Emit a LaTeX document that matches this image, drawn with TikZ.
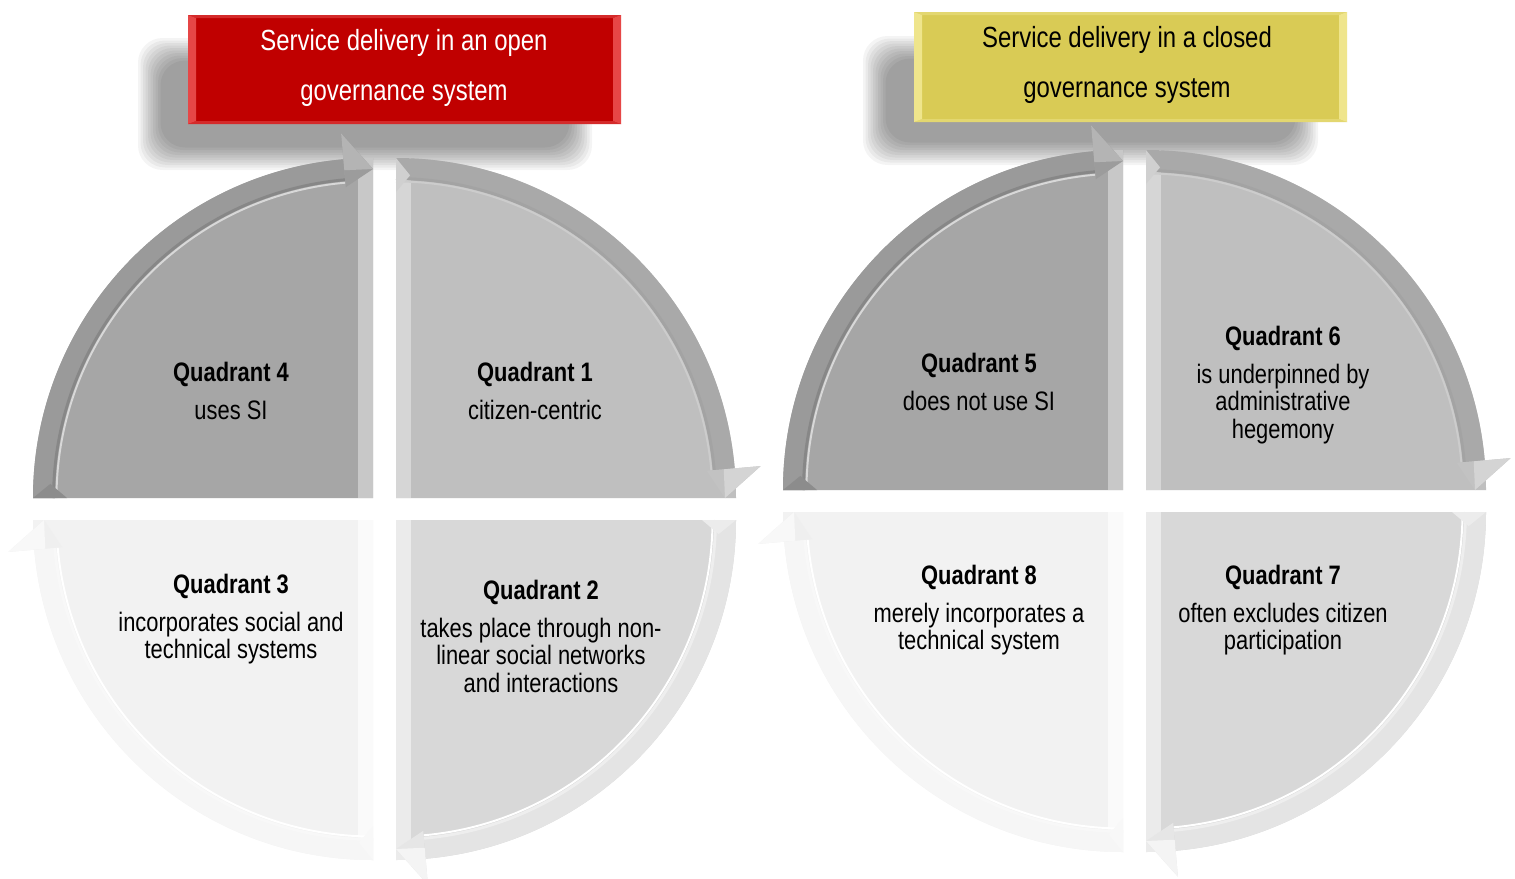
\documentclass[tikz,border=0pt]{standalone}
\usepackage{fontspec}
\setmainfont{Liberation Sans}[FakeStretch=0.82]

% tones of the four quadrant kinds
\definecolor{AFace}{HTML}{A6A6A6}\definecolor{AStrip}{HTML}{C8C8C8}\definecolor{ABand}{HTML}{9A9A9A}
\definecolor{AEdge}{HTML}{878787}\definecolor{AGlint}{HTML}{D8D8D8}\definecolor{AHead}{HTML}{9C9C9C}\definecolor{AHeadLit}{HTML}{B4B4B4}
\definecolor{AMiter}{HTML}{8C8C8C}
\definecolor{BFace}{HTML}{BFBFBF}\definecolor{BStrip}{HTML}{D6D6D6}\definecolor{BBand}{HTML}{A9A9A9}
\definecolor{BEdge}{HTML}{A3A3A3}\definecolor{BGlint}{HTML}{CCCCCC}\definecolor{BHead}{HTML}{C2C2C2}\definecolor{BHeadLit}{HTML}{D4D4D4}
\definecolor{BMiter}{HTML}{D0D0D0}
\definecolor{CFace}{HTML}{D8D8D8}\definecolor{CStrip}{HTML}{EBEBEB}\definecolor{CBand}{HTML}{E4E4E4}
\definecolor{CEdge}{HTML}{EEEEEE}\definecolor{CGlint}{HTML}{FFFFFF}\definecolor{CHead}{HTML}{E6E6E6}\definecolor{CHeadLit}{HTML}{F4F4F4}
\definecolor{CMiter}{HTML}{ECECEC}
\definecolor{DFace}{HTML}{F2F2F2}\definecolor{DStrip}{HTML}{FAFAFA}\definecolor{DBand}{HTML}{F6F6F6}
\definecolor{DEdge}{HTML}{F8F8F8}\definecolor{DGlint}{HTML}{FFFFFF}\definecolor{DHead}{HTML}{EFEFEF}\definecolor{DHeadLit}{HTML}{F8F8F8}
\definecolor{DMiter}{HTML}{F8F8F8}
% header colours
\definecolor{OpenFace}{HTML}{C00000}\definecolor{OpenSide}{HTML}{E64646}\definecolor{OpenTop}{HTML}{D42A2A}
\definecolor{ClosedFace}{HTML}{D9CB55}\definecolor{ClosedSide}{HTML}{EFE58C}\definecolor{ClosedTop}{HTML}{E3D770}

\def\Rout{340}
\def\Rin{318}
\def\Rmid{329}

% one quarter of a cycle: face, edge strip, curved band and its arrow head
% #1,#2 inner corner; #3 start angle; #4,#5 direction of the straight edge strip; #6 tone
\newcommand{\cyclequad}[6]{%
  \begin{scope}[shift={(#1,#2)}]
    \fill[#6Face] (0,0) -- (#3:\Rout) arc[start angle=#3, end angle={#3+90}, radius=\Rout] -- cycle;
    \fill[#6Strip] (0,0) rectangle ({#4*15},{#5*\Rout});
    \fill[#6Band] (#3:\Rout) arc[start angle=#3, end angle={#3+85}, radius=\Rout]
      -- ({#3+85}:\Rin) arc[start angle={#3+85}, end angle=#3, radius=\Rin] -- cycle;
    \draw[#6Edge, line width=1.6pt] ({#3}:{\Rin+1.5}) arc[start angle=#3, end angle={#3+85}, radius={\Rin+1.5}];
    \draw[#6Glint, line width=1.1pt] ({#3}:{\Rin-1.5}) arc[start angle=#3, end angle={#3+85}, radius={\Rin-1.5}];
    \fill[#6Miter] (#3:\Rout) -- (#3:{\Rin-12}) -- ({#3+2.5}:{\Rin+5}) -- cycle;
    \fill[#6Head] ({#3+85}:{\Rin-6}) -- ({#3+85}:{\Rout+26}) -- ({#3+90}:\Rmid) -- cycle;
    \fill[#6HeadLit] ({#3+85}:\Rmid) -- ({#3+85}:{\Rout+26}) -- ({#3+90}:\Rmid) -- cycle;
  \end{scope}}

% a bevelled header plate: #1 left, #2 top, #3 right, #4 bottom, #5 tone
\newcommand{\plate}[5]{%
  \fill[#5Face] (#1,#2) rectangle (#3,#4);
  \fill[#5Top] (#1,#2) -- (#3,#2) -- ({#3-8},{#2+3}) -- ({#1+8},{#2+3}) -- cycle;
  \fill[#5Top] (#1,#4) -- (#3,#4) -- ({#3-8},{#4-3}) -- ({#1+8},{#4-3}) -- cycle;
  \fill[#5Side] (#1,#2) -- ({#1+8},{#2+3}) -- ({#1+8},{#4-3}) -- (#1,#4) -- cycle;
  \fill[#5Side] (#3,#2) -- ({#3-8},{#2+3}) -- ({#3-8},{#4-3}) -- (#3,#4) -- cycle;}

\begin{document}
\begin{tikzpicture}[x=0.02cm, y=-0.02cm,
  qtext/.style={align=center, inner sep=0pt, anchor=north, font=\fontsize{15.2}{15.6}\selectfont},
  htext/.style={align=center, inner sep=0pt, anchor=north, font=\fontsize{16.6}{28.4}\selectfont},
  haze/.style={black, opacity=0.045, rounded corners=14pt}]
\useasboundingbox (0,0) rectangle (1515,879);
\fill[white] (0,0) rectangle (1515,879);

% soft shadows under the two headers
\foreach \k in {0,...,9} {
  \fill[haze] ({138+2.5*\k},{38+2.5*\k}) rectangle ({592-2.5*\k},{170-2.5*\k});
  \fill[haze] ({863+2.5*\k},{36+2.5*\k}) rectangle ({1318-2.5*\k},{165-2.5*\k});
}

% open governance cycle
\cyclequad{373}{498}{180}{-1}{-1}{A}
\cyclequad{396}{498}{270}{1}{-1}{B}
\cyclequad{396}{520}{0}{1}{1}{C}
\cyclequad{373}{520}{90}{-1}{1}{D}

% closed governance cycle
\cyclequad{1123}{490}{180}{-1}{-1}{A}
\cyclequad{1146}{490}{270}{1}{-1}{B}
\cyclequad{1146}{512}{0}{1}{1}{C}
\cyclequad{1123}{512}{90}{-1}{1}{D}

% header plates
\plate{188}{15}{621}{124}{Open}
\plate{914}{12}{1347}{122}{Closed}

\node[htext, text=white] (hopen) at (404,29) {Service delivery in an open\\governance system};
\node[htext, text=black] (hclosed) at (1127,26) {Service delivery in a closed\\governance system};

% quadrant texts
\node[qtext] (q4) at (231,362) {\textbf{Quadrant 4}\\[5.9pt]uses SI};
\node[qtext] (q1) at (535,362) {\textbf{Quadrant 1}\\[5.9pt]citizen-centric};
\node[qtext] (q3) at (231,574) {\textbf{Quadrant 3}\\[5.9pt]incorporates social and\\technical systems};
\node[qtext] (q2) at (541,580) {\textbf{Quadrant 2}\\[5.9pt]takes place through non-\\linear social networks\\and interactions};
\node[qtext] (q5) at (979,353) {\textbf{Quadrant 5}\\[5.9pt]does not use SI};
\node[qtext] (q6) at (1283,326) {\textbf{Quadrant 6}\\[5.9pt]is underpinned by\\administrative\\hegemony};
\node[qtext] (q8) at (979,565) {\textbf{Quadrant 8}\\[5.9pt]merely incorporates a\\technical system};
\node[qtext] (q7) at (1283,565) {\textbf{Quadrant 7}\\[5.9pt]often excludes citizen\\participation};
\end{tikzpicture}
\end{document}
